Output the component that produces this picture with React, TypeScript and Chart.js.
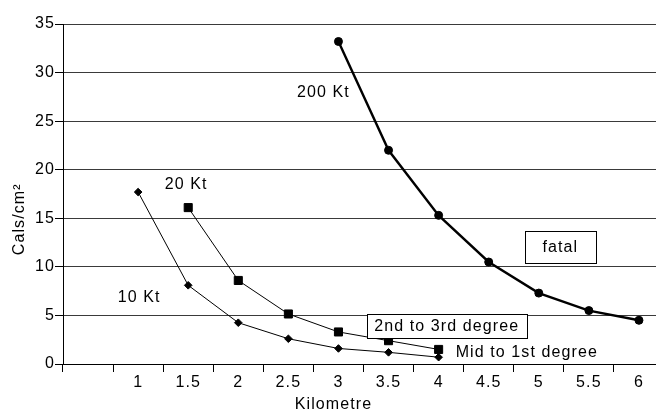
import React, { useEffect, useRef } from "react";
import { Chart, registerables } from "chart.js";

Chart.register(...registerables);

// ---- data ----
const xLabels = ["", "1", "1.5", "2", "2.5", "3", "3.5", "4", "4.5", "5", "5.5", "6"];
const kt10 = [null, 17.7, 8.1, 4.25, 2.6, 1.6, 1.2, 0.7, null, null, null, null];
const kt20 = [null, null, 16.1, 8.6, 5.15, 3.3, 2.4, 1.5, null, null, null, null];
const kt200 = [null, null, null, null, null, 33.2, 22.0, 15.3, 10.5, 7.3, 5.5, 4.5];
const seriesNames = ["10 Kt", "20 Kt", "200 Kt"];
const zoneLabels = ["fatal", "2nd to 3rd degree", "Mid to 1st degree"];
const yMin = 0;
const yMax = 35;
const yStep = 5;
const xTitle = "Kilometre";
const yTitle = "Cals/cm²";

const FONT_FAMILY = '"Liberation Sans", Arial, Helvetica, sans-serif';
const FONT = `16px ${FONT_FAMILY}`;
const SPACING = "1.1px";

// annotation anchors, in data space (category index, value)
const notes = [
  { text: seriesNames[2], xi: 4.7, v: 28.0, box: null as null | [number, number], align: "center" },
  { text: seriesNames[1], xi: 1.96, v: 18.6, box: null, align: "center" },
  { text: seriesNames[0], xi: 1.02, v: 6.9, box: null, align: "center" },
  { text: zoneLabels[0], xi: 9.43, v: 12.04, box: [71, 32], align: "center" },
  { text: zoneLabels[1], xi: 7.16, v: 3.91, box: [160, 24], align: "center" },
  { text: zoneLabels[2], xi: 7.34, v: 1.27, box: null, align: "left" },
];

const annotPlugin = {
  id: "annot",
  beforeDraw(chart: any) {
    (chart.ctx as any).letterSpacing = SPACING;
  },
  afterDatasetsDraw(chart: any) {
    const { ctx, scales, chartArea } = chart;
    const x = scales.x;
    const y = scales.y;
    ctx.save();
    (ctx as any).letterSpacing = SPACING;
    ctx.font = FONT;
    ctx.textBaseline = "middle";
    for (const n of notes) {
      const px = x.getPixelForValue(n.xi);
      const py = y.getPixelForValue(n.v);
      if (n.box) {
        const [w, h] = n.box;
        const bx = Math.round(px - w / 2) + 0.5;
        const by = Math.round(py - h / 2) + 0.5;
        ctx.fillStyle = "#ffffff";
        ctx.fillRect(bx, by, w, h);
        ctx.strokeStyle = "#000000";
        ctx.lineWidth = 1;
        ctx.strokeRect(bx, by, w, h);
      }
      ctx.fillStyle = "#000000";
      ctx.textAlign = n.align as CanvasTextAlign;
      ctx.fillText(n.text, px, py + 1);
    }
    // axis titles
    ctx.textAlign = "center";
    ctx.fillText(xTitle, x.getPixelForValue(4.9), chartArea.bottom + 41);
    ctx.translate(20, y.getPixelForValue(14.9));
    ctx.rotate(-Math.PI / 2);
    ctx.fillText(yTitle, 0, 0);
    ctx.restore();
  },
};

export default function App() {
  const canvasRef = useRef<HTMLCanvasElement | null>(null);

  useEffect(() => {
    const canvas = canvasRef.current;
    if (!canvas) return;
    const chart = new Chart(canvas, {
      type: "line",
      data: {
        labels: xLabels,
        datasets: [
          {
            label: seriesNames[0],
            data: kt10,
            borderColor: "#000",
            backgroundColor: "#000",
            borderWidth: 1,
            pointStyle: "rectRot",
            pointRadius: 3.8,
            pointBorderWidth: 1,
            pointBackgroundColor: "#000",
            pointBorderColor: "#000",
            tension: 0,
          },
          {
            label: seriesNames[1],
            data: kt20,
            borderColor: "#000",
            backgroundColor: "#000",
            borderWidth: 1,
            pointStyle: "rect",
            pointRadius: 5.7,
            pointBorderWidth: 1,
            pointBackgroundColor: "#000",
            pointBorderColor: "#000",
            tension: 0,
          },
          {
            label: seriesNames[2],
            data: kt200,
            borderColor: "#000",
            backgroundColor: "#000",
            borderWidth: 2.4,
            pointStyle: "circle",
            pointRadius: 4,
            pointBorderWidth: 1,
            pointBackgroundColor: "#000",
            pointBorderColor: "#000",
            tension: 0,
          },
        ],
      },
      options: {
        responsive: false,
        animation: false,
        events: [],
        layout: { padding: { top: 24, right: 16, bottom: 0, left: 0 } },
        plugins: {
          legend: { display: false },
          title: { display: false },
          tooltip: { enabled: false },
        },
        scales: {
          x: {
            type: "category",
            offset: true,
            grid: {
              offset: true,
              drawOnChartArea: false,
              drawTicks: true,
              tickLength: 8,
              color: "#000",
              lineWidth: 1,
            },
            border: { display: true, color: "#000", width: 1 },
            ticks: {
              color: "#000",
              font: { family: FONT_FAMILY, size: 16 },
              padding: 1,
              maxRotation: 0,
              autoSkip: false,
            },
            afterFit: (s: any) => {
              s.height = 49;
            },
          },
          y: {
            min: yMin,
            max: yMax,
            grid: {
              color: "#3a3a3a",
              lineWidth: 1,
              drawTicks: true,
              tickLength: 8,
              tickColor: "#000",
            },
            border: { display: true, color: "#000", width: 1 },
            ticks: {
              stepSize: yStep,
              color: "#000",
              font: { family: FONT_FAMILY, size: 16 },
              padding: 0,
            },
            afterFit: (s: any) => {
              s.width = 63;
            },
          },
        },
      },
      plugins: [annotPlugin],
    });
    return () => chart.destroy();
  }, []);

  return (
    <div
      style={{
        position: "absolute",
        left: 0,
        top: 0,
        width: 656,
        height: 413,
        overflow: "hidden",
        background: "#fff",
      }}
    >
      <canvas ref={canvasRef} width={680} height={413} style={{ display: "block" }} />
    </div>
  );
}
